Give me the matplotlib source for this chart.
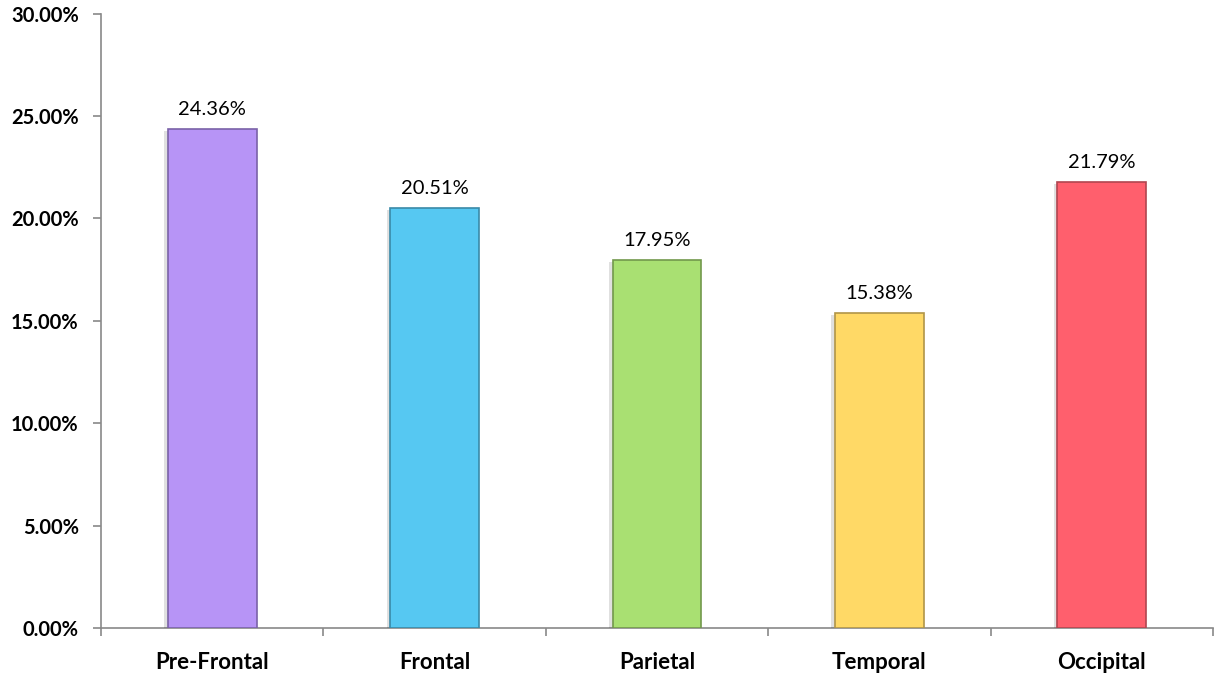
import matplotlib
matplotlib.use("Agg")
import matplotlib.pyplot as plt
import matplotlib.patheffects as pe
import numpy as np

categories = ["Pre-Frontal", "Frontal", "Parietal", "Temporal", "Occipital"]
values = [24.36, 20.51, 17.95, 15.38, 21.79]
colors = ["#B794F6", "#56C8F2", "#A9E072", "#FFD966", "#FF5F6D"]
edges = ["#7A62A8", "#3A8AA8", "#72984C", "#B09548", "#B04650"]
yticks = [0, 5, 10, 15, 20, 25, 30]

plt.rcParams['font.family'] = ['Lato', 'DejaVu Sans']

W, H = 1217, 677
fig = plt.figure(figsize=(W/100, H/100), dpi=100)
ax = fig.add_axes([101/W, 1-628/H, (1213-101)/W, (628-13.6)/H])

x = np.arange(len(categories))
bars = ax.bar(x, values, width=0.4, color=colors, edgecolor=edges, linewidth=1.2, zorder=3)
for b in bars:
    b.set_path_effects([pe.SimplePatchShadow(offset=(-2.5, -1.5), shadow_rgbFace='#000000', alpha=0.12), pe.Normal()])

for xi, v in zip(x, values):
    ax.annotate(f"{v:.2f}%", (xi, v), xytext=(0, 8), textcoords='offset points',
                ha='center', va='bottom', fontsize=14.5, color='black')

ax.set_xlim(-0.5, len(categories) - 0.5)
ax.set_ylim(0, 30)
ax.set_yticks(yticks)
ax.set_yticklabels([f"{t:.2f}%" for t in yticks], fontsize=14.5, fontweight='bold')
ax.set_xticks(x)
ax.set_xticklabels(categories, fontsize=16, fontweight='bold')
ax.set_xticks(np.arange(len(categories) + 1) - 0.5, minor=True)
ax.tick_params(axis='x', which='major', length=0, pad=17)
ax.tick_params(axis='x', which='minor', length=6, color='#898989', width=1.2, direction='out')
ax.tick_params(axis='y', length=6, color='#898989', width=1.2, pad=10)

for s in ['top', 'right']:
    ax.spines[s].set_visible(False)
for s in ['left', 'bottom']:
    ax.spines[s].set_color('#898989')
    ax.spines[s].set_linewidth(1.2)

fig.savefig("out.png", dpi=100)
